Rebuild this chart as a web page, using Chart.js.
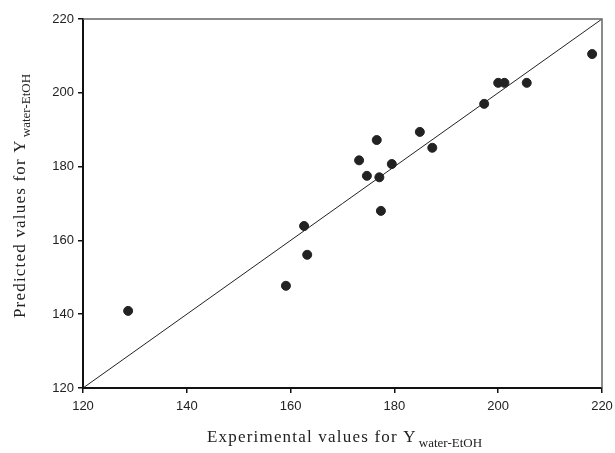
<!DOCTYPE html>
<html>
<head>
<meta charset="utf-8">
<script src="https://cdn.jsdelivr.net/npm/chart.js@4.4.1/dist/chart.umd.min.js"></script>
<style>
  html, body { margin: 0; padding: 0; background: #fff; }
  #wrap { width: 615px; height: 453px; position: relative; }
</style>
</head>
<body>
<div id="wrap"><canvas id="chart"></canvas></div>
<script>
// ================================
// Data: experimental vs predicted
// ================================
const experimental = [128.7, 159.1, 162.6, 163.2, 173.2, 174.7, 176.6, 177.1, 177.4, 179.5, 184.9, 187.3, 197.3, 200.0, 201.2, 205.5, 218.1];
const predicted    = [140.9, 147.7, 163.9, 156.1, 181.7, 177.5, 187.2, 177.1, 168.0, 180.7, 189.4, 185.1, 197.0, 202.7, 202.7, 202.7, 210.5];

// diagonal y = x
const lineX = [120, 220];
const lineY = [120, 220];

const axisMin = 120;
const axisMax = 220;
const tickStep = 20;

const xTitle = { main: "Experimental values for Y", sub: "water-EtOH" };
const yTitle = { main: "Predicted values for Y", sub: "water-EtOH" };

// ================================
// Frame + titles with subscript
// ================================
function drawTitle(ctx, t, cx, cy, rotate) {
  const mainFont = "17px 'Liberation Serif', 'Times New Roman', serif";
  const subFont = "13px 'Liberation Serif', 'Times New Roman', serif";
  ctx.save();
  ctx.font = mainFont;
  ctx.letterSpacing = "1.2px";
  const wMain = ctx.measureText(t.main).width + 2;
  ctx.font = subFont;
  ctx.letterSpacing = "0px";
  const wSub = ctx.measureText(t.sub).width;
  const total = wMain + wSub;
  ctx.translate(cx, cy);
  if (rotate) ctx.rotate(-Math.PI / 2);
  ctx.fillStyle = "#222";
  ctx.textBaseline = "alphabetic";
  ctx.textAlign = "left";
  ctx.font = mainFont;
  ctx.letterSpacing = "1.2px";
  ctx.fillText(t.main, -total / 2, 5);
  ctx.font = subFont;
  ctx.letterSpacing = "0px";
  ctx.fillText(t.sub, -total / 2 + wMain, 10);
  ctx.restore();
}

const framePlugin = {
  id: "frame",
  afterDraw(chart) {
    const { ctx, chartArea: a } = chart;
    ctx.save();
    ctx.strokeStyle = "#666";
    ctx.lineWidth = 1.5;
    ctx.beginPath();
    ctx.moveTo(a.left, a.top);
    ctx.lineTo(a.right, a.top);
    ctx.lineTo(a.right, a.bottom);
    ctx.stroke();
    ctx.restore();

    drawTitle(ctx, xTitle, (a.left + a.right) / 2 + 2, 437, false);
    drawTitle(ctx, yTitle, 20, 196, true);
  }
};

// ================================
// Chart
// ================================
const points = experimental.map((x, i) => ({ x: x, y: predicted[i] }));
const diag = lineX.map((x, i) => ({ x: x, y: lineY[i] }));

const axisBase = {
  type: "linear",
  min: axisMin,
  max: axisMax,
  border: { display: true, color: "#111", width: 2 },
  grid: { display: true, drawOnChartArea: false, drawTicks: true, tickLength: 5, color: "#111", lineWidth: 1.5 },
};

new Chart(document.getElementById("chart"), {
  type: "scatter",
  data: {
    datasets: [
      {
        type: "line",
        data: diag,
        borderColor: "#222",
        borderWidth: 1,
        pointRadius: 0,
        fill: false,
        order: 2,
      },
      {
        data: points,
        backgroundColor: "#222",
        borderColor: "#222",
        pointRadius: 4.5,
        pointHoverRadius: 4.5,
        order: 1,
      },
    ],
  },
  options: {
    responsive: true,
    maintainAspectRatio: false,
    animation: false,
    layout: { padding: { left: 0, top: 19, right: 13, bottom: 0 } },
    plugins: { legend: { display: false }, tooltip: { enabled: false } },
    scales: {
      x: {
        ...axisBase,
        ticks: { stepSize: tickStep, padding: 6, color: "#222", font: { family: "'Liberation Sans', Arial, sans-serif", size: 13 } },
        afterFit(scale) {
          scale.height = 65;
          // the last tick label may hang past the plot edge
          scale.paddingLeft = 0;
          scale.paddingRight = 0;
        },
      },
      y: {
        ...axisBase,
        ticks: { stepSize: tickStep, padding: 4, color: "#222", font: { family: "'Liberation Sans', Arial, sans-serif", size: 13 } },
        afterFit(scale) {
          scale.width = 83;
          scale.paddingTop = 0;
          scale.paddingBottom = 0;
        },
      },
    },
  },
  plugins: [framePlugin],
});
</script>
</body>
</html>
